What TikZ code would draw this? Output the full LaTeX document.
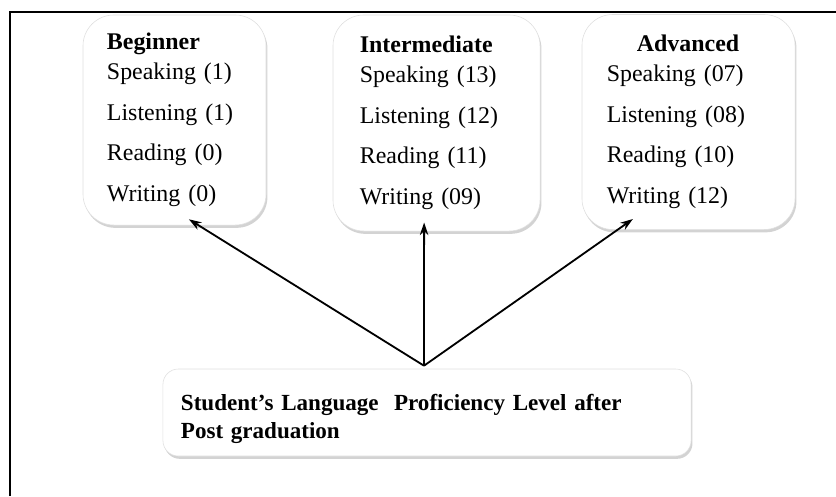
\documentclass[tikz,border=0pt]{standalone}
\usepackage{fontspec}
\setmainfont{Liberation Serif}
\usepackage{tikz}
\usetikzlibrary{shadows,arrows.meta}

\begin{document}
\begin{tikzpicture}[x=0.025cm, y=-0.025cm,
        levelbox/.style={
            draw=gray!25, fill=white, rounded corners=22pt,
            drop shadow={shadow xshift=1pt, shadow yshift=-2pt, opacity=0.35, fill=gray},
            align=left, inner xsep=0pt, inner ysep=0pt,
            font=\fontsize{17}{29}\selectfont
        },
        studentbox/.style={
            draw=gray!25, fill=white, rounded corners=11pt,
            drop shadow={shadow xshift=1pt, shadow yshift=-2pt, opacity=0.35, fill=gray},
            align=left, inner xsep=0pt, inner ysep=0pt,
            font=\bfseries\fontsize{16.4}{20}\selectfont
        },
        link/.style={-{Stealth[length=9pt, width=6pt]}, line width=1.3pt}
    ]

        \useasboundingbox (0,0) rectangle (836,496);

        % frame
        \draw[line width=1.6pt] (10,496) -- (10,12) -- (836,12);

        \node[levelbox, minimum width=4.575cm, minimum height=5.25cm, text width=3.375cm] (beg) at (174.5,120)
            {\textbf{Beginner}\\[-8pt]
             Speaking (1)\\
             Listening (1)\\
             Reading (0)\\
             Writing (0)};
        \node[levelbox, minimum width=5.175cm, minimum height=5.4cm, text width=3.83cm] (mid) at (436.5,123)
            {\textbf{Intermediate}\\[-8pt]
             Speaking (13)\\
             Listening (12)\\
             Reading (11)\\
             Writing (09)};
        \node[levelbox, minimum width=5.325cm, minimum height=5.375cm, text width=4.08cm] (adv) at (688.5,122)
            {\hspace*{0.75cm}\textbf{Advanced}\\[-8pt]
             Speaking (07)\\
             Listening (08)\\
             Reading (10)\\
             Writing (12)};

        \node[studentbox, minimum width=13.2cm, minimum height=2.175cm, text width=12.3cm] (stu) at (427,412.5)
            {\rule{0pt}{21pt}Student’s Language \ Proficiency Level after\\
             Post graduation};

        \coordinate (root) at ([xshift=-0.075cm, yshift=0.075cm]stu.north);

        \draw[link] (root) -- ([xshift=0.36cm, yshift=0.15cm]beg.south);
        \draw[link] (root) -- ([xshift=-0.31cm, yshift=0.22cm]mid.south);
        \draw[link] (root) -- ([xshift=-1.39cm, yshift=0.27cm]adv.south);

\end{tikzpicture}
\end{document}
